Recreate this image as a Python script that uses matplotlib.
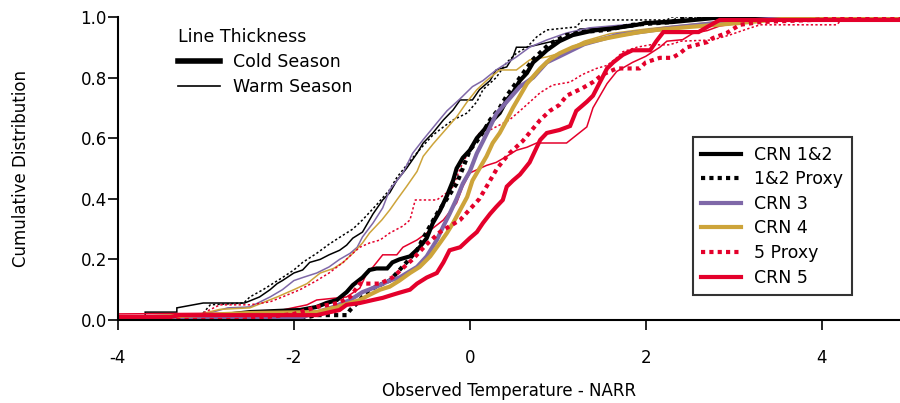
import matplotlib
matplotlib.use("Agg")
import matplotlib.pyplot as plt
from matplotlib.lines import Line2D
import numpy as np

# colours
BLACK = "#000000"
PURPLE = "#7f68a8"
GOLD = "#cda43a"
RED = "#e4002b"

# cumulative curves, (temperature difference, cumulative fraction)
# warm season (thin lines)
crn12_warm = [(-4.0, .013), (-3.69, .013), (-3.69, .026), (-3.33, .026), (-3.33, .04), (-3.03, .056),
              (-2.56, .056), (-2.39, .076), (-2.27, .10), (-2.19, .12), (-2.13, .13), (-2.0, .155),
              (-1.9, .165), (-1.82, .19), (-1.7, .20), (-1.6, .215), (-1.48, .23), (-1.4, .247),
              (-1.33, .27), (-1.22, .29), (-1.1, .35), (-0.99, .396), (-0.91, .42), (-0.83, .46),
              (-0.72, .50), (-0.6, .55), (-0.53, .584), (-0.42, .617), (-0.3, .66), (-0.19, .693),
              (-0.11, .726), (0.03, .726), (0.11, .76), (0.23, .79), (0.3, .825), (0.42, .835),
              (0.49, .868), (0.53, .90), (0.65, .90), (0.8, .91), (1.1, .93), (1.25, .96),
              (1.85, .967), (1.93, .98), (2.3, .99), (2.76, .997), (3.2, 1.0), (4.89, 1.0)]
proxy12_warm = [(-4.0, 0.0), (-3.1, .005), (-3.03, .023), (-2.95, .05), (-2.57, .056), (-2.5, .076),
                (-2.35, .10), (-2.24, .12), (-2.13, .14), (-2.0, .165), (-1.9, .19), (-1.74, .22),
                (-1.6, .25), (-1.44, .28), (-1.33, .30), (-1.22, .33), (-1.06, .38), (-0.91, .43),
                (-0.83, .47), (-0.68, .525), (-0.53, .575), (-0.42, .61), (-0.3, .637), (-0.19, .66),
                (-0.03, .683), (0.08, .72), (0.15, .76), (0.3, .80), (0.42, .85), (0.53, .88),
                (0.65, .90), (0.76, .934), (0.875, .957), (1.21, .967), (1.28, .99), (2.24, .99),
                (2.3, 1.0), (4.89, 1.0)]
crn3_warm = [(-4.0, .01), (-3.0, .02), (-2.75, .04), (-2.5, .043), (-2.27, .076), (-2.13, .10),
             (-2.0, .13), (-1.9, .14), (-1.74, .155), (-1.6, .175), (-1.48, .20), (-1.36, .22),
             (-1.28, .24), (-1.22, .274), (-1.1, .32), (-0.99, .37), (-0.91, .43), (-0.76, .485),
             (-0.65, .55), (-0.53, .595), (-0.375, .65), (-0.26, .69), (-0.11, .73), (0.03, .77),
             (0.15, .79), (0.3, .825), (0.53, .868), (0.68, .90), (0.875, .924), (1.1, .947),
             (1.36, .964), (1.8, .975), (2.5, .99), (3.2, 1.0), (4.89, 1.0)]
crn4_warm = [(-4.0, 0.0), (-3.2, .01), (-2.84, .035), (-2.5, .04), (-2.19, .076), (-2.0, .10),
             (-1.85, .12), (-1.7, .155), (-1.55, .17), (-1.44, .19), (-1.33, .22), (-1.22, .254),
             (-1.14, .287), (-1.0, .33), (-0.91, .363), (-0.83, .396), (-0.72, .44), (-0.6, .49),
             (-0.53, .54), (-0.42, .58), (-0.3, .62), (-0.15, .67), (-0.03, .72), (0.08, .76),
             (0.19, .79), (0.34, .825), (0.53, .825), (0.68, .858), (0.875, .868), (1.02, .88),
             (1.3, .92), (1.6, .945), (2.0, .96), (2.5, .975), (3.0, .99), (3.8, 1.0), (4.89, 1.0)]
proxy5_warm = [(-4.0, .01), (-3.1, .01), (-3.03, .023), (-2.84, .05), (-2.5, .05), (-2.27, .06),
               (-2.13, .076), (-1.93, .10), (-1.74, .13), (-1.6, .155), (-1.44, .19), (-1.33, .22),
               (-1.25, .24), (-1.14, .254), (-1.02, .264), (-0.91, .287), (-0.76, .31), (-0.68, .33),
               (-0.62, .396), (-0.375, .396), (-0.26, .42), (-0.19, .44), (-0.11, .50), (0.03, .58),
               (0.11, .617), (0.23, .627), (0.45, .66), (0.57, .69), (0.8, .75), (0.94, .775),
               (1.14, .785), (1.28, .81), (1.44, .83), (1.56, .84), (1.67, .865), (1.74, .885),
               (1.9, .90), (2.05, .908), (2.27, .908), (2.4, .92), (2.76, .924), (2.95, .94),
               (3.15, .96), (3.3, .974), (4.17, .974), (4.26, 1.0), (4.89, 1.0)]
crn5_warm = [(-4.0, .02), (-2.5, .023), (-2.13, .033), (-1.85, .05), (-1.74, .066), (-1.4, .076),
             (-1.25, .105), (-1.17, .155), (-1.1, .175), (-0.99, .215), (-0.83, .215), (-0.76, .24),
             (-0.6, .264), (-0.49, .287), (-0.3, .33), (-0.15, .386), (-0.08, .44), (0.0, .485),
             (0.19, .51), (0.3, .52), (0.42, .54), (0.53, .56), (0.65, .57), (0.76, .584),
             (1.1, .584), (1.33, .637), (1.4, .70), (1.48, .74), (1.56, .78), (1.67, .82),
             (1.85, .85), (2.0, .87), (2.16, .90), (2.24, .92), (2.42, .925), (2.53, .945),
             (2.7, .955), (2.84, .97), (3.07, .98), (3.5, .99), (4.89, .99)]

# cold season (thick lines)
crn12_cold = [(-4.0, .005), (-3.0, .01), (-2.5, .026), (-1.93, .033), (-1.74, .043), (-1.63, .056),
              (-1.51, .066), (-1.4, .092), (-1.33, .115), (-1.22, .14), (-1.14, .165), (-1.06, .17),
              (-0.94, .17), (-0.88, .19), (-0.8, .20), (-0.68, .21), (-0.57, .24), (-0.49, .27),
              (-0.42, .32), (-0.34, .36), (-0.26, .41), (-0.19, .46), (-0.15, .50), (-0.08, .535),
              (0.0, .56), (0.08, .60), (0.23, .65), (0.34, .683), (0.42, .726), (0.49, .75),
              (0.57, .79), (0.65, .815), (0.72, .85), (0.8, .87), (0.875, .89), (1.02, .92),
              (1.17, .94), (1.4, .955), (1.67, .964), (1.9, .974), (2.0, .98), (2.3, .983),
              (2.8, .997), (3.2, 1.0), (4.89, 1.0)]
proxy12_cold = [(-4.0, 0.0), (-2.0, 0.0), (-1.74, .016), (-1.4, .016), (-1.36, .033), (-1.28, .056),
                (-1.22, .076), (-1.14, .10), (-1.06, .11), (-0.99, .12), (-0.91, .13), (-0.83, .155),
                (-0.72, .19), (-0.6, .23), (-0.53, .27), (-0.375, .35), (-0.26, .40), (-0.15, .45),
                (-0.08, .50), (0.0, .56), (0.08, .59), (0.15, .62), (0.23, .66), (0.34, .70),
                (0.42, .74), (0.57, .80), (0.72, .86), (0.9, .91), (1.1, .94), (1.28, .95),
                (1.56, .957), (1.85, .974), (2.3, .983), (2.39, .997), (2.5, 1.0), (4.89, 1.0)]
crn3_cold = [(-4.0, .007), (-1.93, .007), (-1.55, .043), (-1.36, .066), (-1.22, .092), (-1.06, .11),
             (-0.91, .13), (-0.8, .14), (-0.6, .175), (-0.49, .21), (-0.375, .264), (-0.3, .31),
             (-0.23, .35), (-0.15, .40), (-0.08, .45), (0.0, .49), (0.08, .55), (0.15, .59),
             (0.23, .637), (0.3, .68), (0.42, .72), (0.57, .77), (0.72, .80), (0.875, .85),
             (1.02, .87), (1.3, .91), (1.67, .94), (1.93, .95), (2.3, .965), (2.8, .98),
             (3.5, .995), (4.0, 1.0), (4.89, 1.0)]
crn4_cold = [(-4.0, .005), (-2.5, .023), (-1.74, .026), (-1.51, .043), (-1.36, .056), (-1.25, .066),
             (-1.14, .083), (-1.02, .10), (-0.91, .11), (-0.8, .13), (-0.68, .155), (-0.57, .175),
             (-0.45, .21), (-0.34, .254), (-0.26, .287), (-0.19, .32), (-0.11, .363), (-0.03, .406),
             (0.03, .46), (0.11, .50), (0.19, .54), (0.26, .584), (0.34, .617), (0.42, .66),
             (0.49, .70), (0.57, .74), (0.65, .78), (0.8, .83), (0.91, .86), (1.02, .88),
             (1.17, .90), (1.36, .917), (1.56, .93), (1.74, .94), (1.93, .95), (2.12, .957),
             (2.5, .967), (3.07, .98), (3.8, 1.0), (4.89, 1.0)]
proxy5_cold = [(-4.0, 0.0), (-2.6, 0.0), (-2.0, .02), (-1.74, .043), (-1.5, .056), (-1.36, .076),
               (-1.25, .12), (-1.02, .12), (-0.88, .14), (-0.65, .20), (-0.49, .25), (-0.34, .29),
               (-0.11, .33), (0.11, .40), (0.31, .50), (0.45, .55), (0.6, .59), (0.8, .66),
               (0.91, .69), (1.02, .71), (1.1, .74), (1.28, .765), (1.4, .785), (1.51, .81),
               (1.67, .83), (1.93, .83), (2.0, .85), (2.16, .865), (2.3, .865), (2.39, .88),
               (2.47, .90), (2.58, .908), (2.7, .917), (2.76, .93), (2.92, .947), (3.07, .974),
               (3.3, .983), (3.9, .99), (4.4, 1.0), (4.89, 1.0)]
crn5_cold = [(-4.0, .01), (-3.4, .01), (-3.3, .016), (-1.74, .016), (-1.48, .033), (-1.4, .05),
             (-1.25, .056), (-1.1, .066), (-0.99, .073), (-0.88, .083), (-0.8, .09), (-0.68, .10),
             (-0.6, .12), (-0.49, .14), (-0.375, .155), (-0.3, .19), (-0.23, .23), (-0.11, .24),
             (0.0, .27), (0.08, .29), (0.15, .32), (0.23, .35), (0.3, .373), (0.375, .396),
             (0.42, .44), (0.49, .46), (0.57, .48), (0.68, .52), (0.8, .594), (0.875, .617),
             (1.02, .627), (1.14, .64), (1.21, .69), (1.33, .72), (1.4, .74), (1.48, .785),
             (1.56, .83), (1.63, .85), (1.74, .875), (1.85, .89), (2.05, .89), (2.12, .92),
             (2.2, .95), (2.6, .95), (2.7, .967), (2.84, .99), (4.89, .99)]

series_names = ["CRN 1&2", "1&2 Proxy", "CRN 3", "CRN 4", "5 Proxy", "CRN 5"]
series_colors = [BLACK, BLACK, PURPLE, GOLD, RED, RED]
series_dotted = [False, True, False, False, True, False]
warm_curves = [crn12_warm, proxy12_warm, crn3_warm, crn4_warm, proxy5_warm, crn5_warm]
cold_curves = [crn12_cold, proxy12_cold, crn3_cold, crn4_cold, proxy5_cold, crn5_cold]

plt.rcParams['font.family'] = 'DejaVu Sans'
plt.rcParams['font.size'] = 12
plt.rcParams['axes.unicode_minus'] = False

fig = plt.figure(figsize=(9, 4.03), dpi=100)
ax = fig.add_axes([0.131, 0.206, 0.869, 0.752])

THICK = 3.0
THIN = 1.1

for curves, lw in ((warm_curves, THIN), (cold_curves, THICK)):
    for pts, col, dotted in zip(curves, series_colors, series_dotted):
        xy = np.array(pts)
        ls = (0, (1, 1)) if dotted else "-"
        if dotted and lw == THIN:
            ls = (0, (1.5, 1.5))
        ax.plot(xy[:, 0], xy[:, 1], color=col, lw=lw, ls=ls,
                solid_joinstyle="miter", dash_capstyle="butt")

ax.set_xlim(-4, 4.89)
ax.set_ylim(0, 1)
ax.set_xticks([-4, -2, 0, 2, 4])
ax.set_yticks([0, 0.2, 0.4, 0.6, 0.8, 1.0])
ax.yaxis.set_major_formatter(plt.FormatStrFormatter("%.1f"))
for side in ("top", "right"):
    ax.spines[side].set_visible(False)
for side in ("left", "bottom"):
    ax.spines[side].set_linewidth(1.5)
ax.tick_params(direction="out", length=7, width=1.2, labelsize=12)
ax.tick_params(axis="x", pad=14)
ax.tick_params(axis="y", pad=1)
ax.set_xlabel("Observed Temperature - NARR", labelpad=11)
ax.set_ylabel("Cumulative Distribution", labelpad=36)

# series legend
handles = []
for name, col, dotted in zip(series_names, series_colors, series_dotted):
    handles.append(Line2D([], [], color=col, lw=THICK, ls=(0, (1, 1)) if dotted else "-"))
leg = ax.legend(handles, series_names, loc="upper left", bbox_to_anchor=(0.735, 0.604),
                borderaxespad=0, frameon=True, fancybox=False, handlelength=2.3,
                handletextpad=0.75, labelspacing=0.38, borderpad=0.5, fontsize=12.5)
leg.get_frame().set_edgecolor("black")
leg.get_frame().set_linewidth(1.5)
ax.add_artist(leg)

# line thickness legend
th = [Line2D([], [], color=BLACK, lw=4.0), Line2D([], [], color=BLACK, lw=1.2)]
leg2 = ax.legend(th, ["Cold Season", "Warm Season"], loc="upper left",
                 bbox_to_anchor=(0.068, 0.985), borderaxespad=0, frameon=False,
                 title="Line Thickness", alignment="left", handlelength=2.4,
                 handletextpad=0.75, labelspacing=0.4, fontsize=12.5, title_fontsize=12.5)
for h in leg2.legend_handles:
    pass

fig.savefig("out.png", dpi=100)
